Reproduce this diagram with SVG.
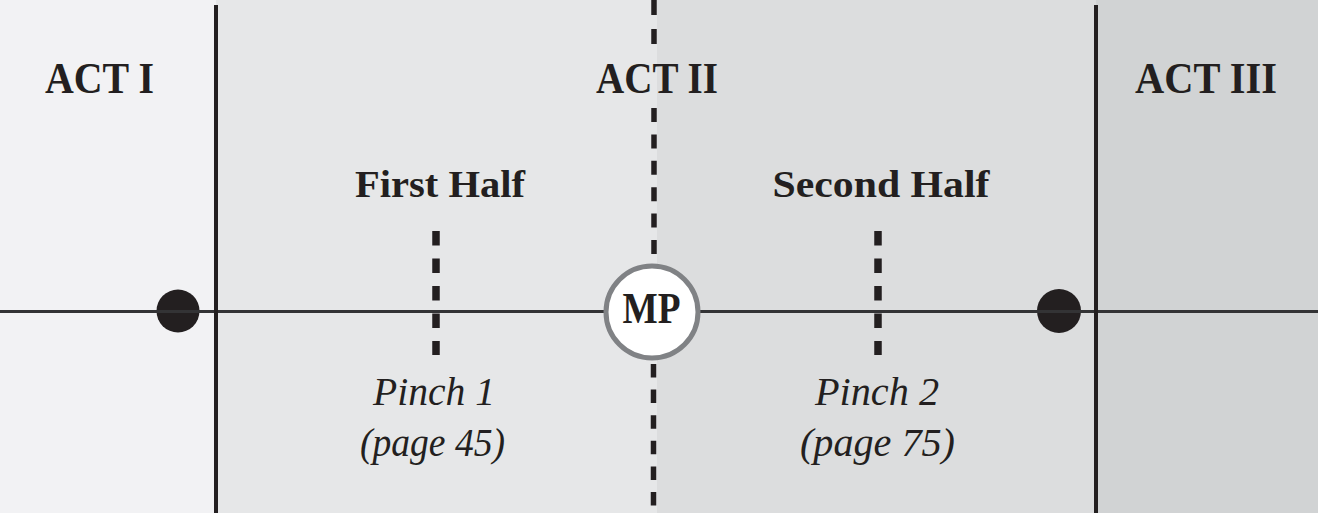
<svg xmlns="http://www.w3.org/2000/svg" width="1318" height="513" viewBox="0 0 1318 513">
<style>
.act{font-family:"Liberation Serif",serif;font-weight:bold;font-size:44px;fill:#231f20;text-anchor:middle}
.half{font-family:"Liberation Serif",serif;font-weight:bold;font-size:37px;fill:#231f20;text-anchor:middle}
.pinch{font-family:"Liberation Serif",serif;font-style:italic;font-size:40px;fill:#231f20;text-anchor:middle}
.solid{stroke:#231f20;stroke-width:4;fill:none}
.dash{stroke:#231f20;fill:none}
</style>
<g id="background">
<rect x="0" y="0" width="216" height="513" fill="#f2f2f4"/>
<rect x="216" y="0" width="441" height="513" fill="#e6e7e8"/>
<rect x="657" y="0" width="439" height="513" fill="#dcddde"/>
<rect x="1096" y="0" width="222" height="513" fill="#d1d3d4"/>
</g>
<g id="connectors">
<line class="dash" x1="654" y1="0" x2="654" y2="44" stroke-width="5.5" stroke-dasharray="15 14"/>
<line class="dash" x1="654" y1="108" x2="654" y2="266" stroke-width="5.5" stroke-dasharray="14 12.4"/>
<line class="dash" x1="653.5" y1="364" x2="653.5" y2="513" stroke-width="5.5" stroke-dasharray="13.5 12.1"/>
<line class="dash" x1="436" y1="231" x2="436" y2="355" stroke-width="7.5" stroke-dasharray="14.5 13"/>
<line class="dash" x1="878" y1="231" x2="878" y2="355" stroke-width="7.5" stroke-dasharray="14.5 13"/>
</g>
<g id="dot-left"><circle cx="178" cy="311" r="21.5" fill="#231f20"/></g>
<g id="dot-right"><circle cx="1059" cy="311" r="22" fill="#231f20"/></g>
<g id="timeline"><line x1="0" y1="311.5" x2="1318" y2="311.5" stroke="#333335" stroke-width="3"/></g>
<g id="act-borders">
<line class="solid" x1="216" y1="5" x2="216" y2="513"/>
<line class="solid" x1="1096" y1="5" x2="1096" y2="513"/>
</g>
<g id="act1"><text class="act" x="99.5" y="93" textLength="109" lengthAdjust="spacingAndGlyphs">ACT I</text></g>
<g id="act2"><text class="act" x="657" y="93" textLength="122" lengthAdjust="spacingAndGlyphs">ACT II</text></g>
<g id="act3"><text class="act" x="1206" y="93" textLength="142" lengthAdjust="spacingAndGlyphs">ACT III</text></g>
<g id="first-half"><text class="half" x="440" y="197" textLength="170" lengthAdjust="spacingAndGlyphs">First Half</text></g>
<g id="second-half"><text class="half" x="881" y="197" textLength="217" lengthAdjust="spacingAndGlyphs">Second Half</text></g>
<g id="pinch1">
<text class="pinch" x="434" y="405" textLength="122" lengthAdjust="spacingAndGlyphs">Pinch 1</text>
<text class="pinch" x="432.5" y="456" textLength="145" lengthAdjust="spacingAndGlyphs">(page 45)</text>
</g>
<g id="pinch2">
<text class="pinch" x="877" y="405" textLength="124" lengthAdjust="spacingAndGlyphs">Pinch 2</text>
<text class="pinch" x="877.5" y="456" textLength="155" lengthAdjust="spacingAndGlyphs">(page 75)</text>
</g>
<g id="midpoint">
<circle cx="652" cy="312" r="46" fill="#ffffff" stroke="#808285" stroke-width="5"/>
<text class="act" x="651.5" y="323" font-size="38" textLength="58" lengthAdjust="spacingAndGlyphs">MP</text>
</g>
</svg>
